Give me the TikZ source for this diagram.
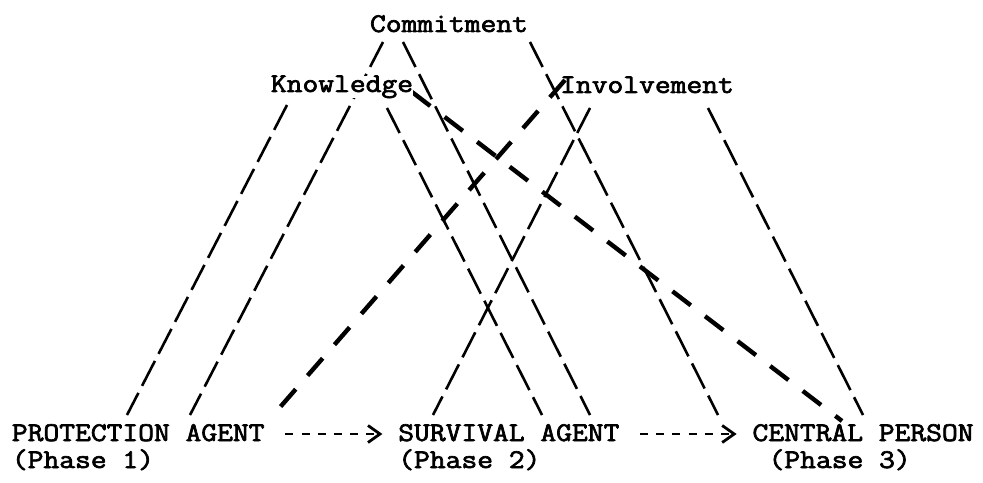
\documentclass[tikz,border=0pt]{standalone}
\usepackage{graphicx}
\usepackage{fontspec}
\newfontfamily\typer{Latin Modern Mono}[FakeBold=2.4]
\newcommand{\sqz}[1]{\scalebox{1}[0.88]{#1}}
\usetikzlibrary{calc, arrows.meta, backgrounds}

\begin{document}
\begin{tikzpicture}[x=0.5pt, y=0.5pt,
			term/.style={font=\fontsize{15.33}{18}\selectfont\typer, inner xsep=0pt, inner ysep=0pt},
			link/.style={line width=1.3pt, dash pattern=on 14pt off 4pt},
			strong/.style={line width=2.2pt, dash pattern=on 11.5pt off 9pt},
			flow/.style={line width=1.4pt, dash pattern=on 4pt off 4.05pt,
				-{Straight Barb[length=6pt, width=8.5pt, line width=1.4pt]}} ]
			\useasboundingbox (0,0) rectangle (983,482);
			
			%Componentes
			\node[term, anchor=base]             (commit) at (449,450)   {\sqz{Commitment}};
			\node[term, anchor=base, fill=white] (know)   at (342,390)   {\sqz{Knowledge}};
			\node[term, anchor=base]             (inv)    at (647,389)   {\sqz{Involvement}};
			
			%Fases
			\node[term, anchor=base west] (prot) at (11.5,41)  {\sqz{PROTECTION AGENT}};
			\node[term, anchor=base west] (surv) at (397.9,41) {\sqz{SURVIVAL AGENT}};
			\node[term, anchor=base west] (cent) at (752.1,41) {\sqz{CENTRAL PERSON}};
			\node[term, anchor=base west] (ph1)  at (11.5,14)  {\sqz{(Phase 1)}};
			\node[term, anchor=base west] (ph2)  at (397.9,14) {\sqz{(Phase 2)}};
			\node[term, anchor=base west] (ph3)  at (768.2,14) {\sqz{(Phase 3)}};
			
			\draw[flow] ($(prot.base east)+(20.5,7)$) -- ($(surv.base west)+(-15.5,7)$);
			\draw[flow] ($(surv.base east)+(20.5,7)$) -- ($(cent.base west)+(-15.5,7)$);
			
			%Ligações:
			%(Componente) -- (Fase)
			\begin{scope}[on background layer]
				\draw[link]   ($(know.base)+(-55,-13)$)  -- ($(prot.base west)+(115.5,26)$);
				\draw[link]   ($(commit.base)+(-66,-10)$) -- ($(prot.base west)+(178.5,26)$);
				\draw[strong] ($(inv.base)+(-82,13)$)    -- ($(prot.base west)+(263.5,28)$);
				\draw[link]   ($(inv.base)+(-57,-15)$)   -- ($(surv.base west)+(35.1,26)$);
				\draw[link]   ($(know.base)+(45,-16)$)   -- ($(surv.base west)+(144.1,26)$);
				\draw[link]   ($(commit.base)+(-46,-10)$) -- ($(surv.base west)+(192.1,26)$);
				\draw[link]   ($(commit.base)+(81,-10)$)  -- ($(cent.base west)+(-34.1,26)$);
				\draw[strong] ($(know.base)+(70,0)$)     -- ($(cent.base west)+(89.9,20)$);
				\draw[link]   ($(inv.base)+(61,-15)$)    -- ($(cent.base west)+(110.9,26)$);
			\end{scope}
		\end{tikzpicture}
\end{document}
